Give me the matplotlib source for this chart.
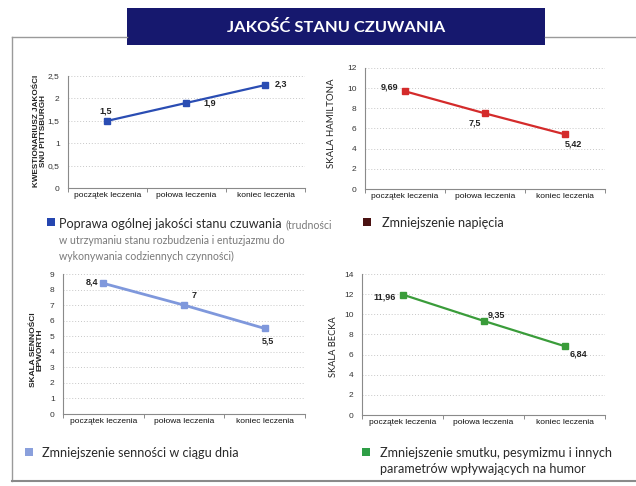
import matplotlib
matplotlib.use("Agg")
import matplotlib.pyplot as plt
from matplotlib.patches import Rectangle
from matplotlib.lines import Line2D

W, H = 636, 486
categories = ["początek leczenia", "połowa leczenia", "koniec leczenia"]

pittsburgh = [1.5, 1.9, 2.3]
hamilton = [9.69, 7.5, 5.42]
epworth = [8.4, 7.0, 5.5]
beck = [11.96, 9.35, 6.84]

pittsburgh_labels = ["1,5", "1,9", "2,3"]
hamilton_labels = ["9,69", "7,5", "5,42"]
epworth_labels = ["8,4", "7", "5,5"]
beck_labels = ["11,96", "9,35", "6,84"]

title = "JAKOŚĆ STANU CZUWANIA"

fig = plt.figure(figsize=(W / 100, H / 100), dpi=100)
fig.patch.set_facecolor("white")
renderer = fig.canvas.get_renderer()

def px_axes(x0, x1, ytop, ybot):
    return fig.add_axes([x0 / W, 1 - ybot / H, (x1 - x0) / W, (ybot - ytop) / H])

def fx(x):
    return x / W

def fy(y):
    return 1 - y / H

def fit(t, target, vertical=False):
    bb = t.get_window_extent(renderer=renderer)
    cur = bb.height if vertical else bb.width
    t.set_fontsize(t.get_fontsize() * target / cur)
    return t

# frame lines
fig.add_artist(Line2D([fx(12), fx(127)], [fy(37), fy(37)], color="#9a9a9a", lw=1))
fig.add_artist(Line2D([fx(545), fx(636)], [fy(37), fy(37)], color="#9a9a9a", lw=1))
fig.add_artist(Line2D([fx(12), fx(12)], [fy(37), fy(481)], color="#9a9a9a", lw=1))
fig.add_artist(Line2D([fx(12), fx(636)], [fy(481), fy(481)], color="#8a8a8a", lw=1.5))

# title banner
fig.add_artist(Rectangle((fx(127), fy(45)), (545 - 127) / W, 37 / H,
                         facecolor="#16186e", edgecolor="none", transform=fig.transFigure))
tt = fig.text(fx(336), fy(27), title, color="white", fontsize=12, fontweight="bold",
              family="Lato", ha="center", va="center")
fit(tt, 217)

tick_font = dict(family="Liberation Sans", fontsize=6)
val_font = dict(family="Liberation Sans", fontsize=6.5, fontweight="bold", color="#222222")
narrow = ["Liberation Sans Narrow", "Liberation Sans"]

def setup(ax, ymax, step, yfmt):
    ax.set_xlim(-0.5, 2.5)
    ax.set_ylim(0, ymax)
    yt = [i * step for i in range(int(round(ymax / step)) + 1)]
    ax.set_yticks(yt)
    ax.set_yticklabels([yfmt(v) for v in yt], **tick_font, color="#333333")
    ax.set_xticks([0, 1, 2])
    ax.set_xticklabels(categories, **tick_font, color="#111111")
    ax.tick_params(axis="x", length=0, pad=3)
    ax.tick_params(axis="y", length=0, pad=6)
    ax.set_xticks([-0.5, 0.5, 1.5, 2.5], minor=True)
    ax.tick_params(axis="x", which="minor", length=3, color="#777777", direction="out")
    for s in ["top", "right"]:
        ax.spines[s].set_visible(False)
    for s in ["left", "bottom"]:
        ax.spines[s].set_color("#8a8a8a")
        ax.spines[s].set_linewidth(0.8)
    ax.grid(axis="y", linestyle=(0, (1, 2)), color="#c8c8c8", lw=0.7)
    ax.set_axisbelow(True)
    ax.set_facecolor("none")

def ylab(text, x, y, height, weight="normal", family=narrow):
    t = fig.text(fx(x), fy(y), text, rotation=90, ha="center", va="center",
                 family=family, fontsize=7, color="#222222", linespacing=0.85,
                 fontweight=weight, multialignment="center")
    fit(t, height, vertical=True)

def comma(v):
    return ("%g" % v).replace(".", ",")

def labels(ax, vals, texts, dxs, dys, has):
    for i, (v, t, dx, dy, ha) in enumerate(zip(vals, texts, dxs, dys, has)):
        ax.annotate(t, (i, v), xytext=(dx, dy), textcoords="offset points",
                    ha=ha, va="center", **val_font)

# top-left
ax1 = px_axes(68, 305, 76, 188)
setup(ax1, 2.5, 0.5, comma)
ax1.plot([0, 1, 2], pittsburgh, color="#2a4db3", lw=1.6, marker="s", ms=4)
labels(ax1, pittsburgh, pittsburgh_labels, [-1, 12, 7], [7, 0, 1], ["center", "left", "left"])
ylab("KWESTIONARIUSZ JAKOŚCI\nSNU PITTSBURGH", 40, 131, 112, weight="bold")

# top-right
ax2 = px_axes(365, 605, 68, 189)
setup(ax2, 12, 2, comma)
ax2.plot([0, 1, 2], hamilton, color="#d42b2b", lw=1.6, marker="s", ms=4)
labels(ax2, hamilton, hamilton_labels, [-5, -7, 0], [3, -7, -7], ["right", "center", "left"])
ylab("SKALA HAMILTONA", 332, 123, 90, family="Lato")

# bottom-left
ax3 = px_axes(63, 305, 274, 414)
setup(ax3, 9, 1, comma)
ax3.plot([0, 1, 2], epworth, color="#7f98dc", lw=2, marker="s", ms=4)
labels(ax3, epworth, epworth_labels, [-4, 7, 2], [1, 7, -9], ["right", "center", "center"])
ylab("SKALA SENNOŚCI\nEPWORTH", 37, 350, 74, weight="bold")

# bottom-right
ax4 = px_axes(362, 605, 274, 415)
setup(ax4, 14, 2, comma)
ax4.plot([0, 1, 2], beck, color="#3a9c3a", lw=1.6, marker="s", ms=4)
labels(ax4, beck, beck_labels, [-5, 3, 4], [-2, 4, -6], ["right", "left", "left"])
ylab("SKALA BECKA", 333, 347, 61, family="Lato")

# legends
leg_font = dict(family="Lato", fontsize=10, color="#2a2a2a")
small_font = dict(family="Lato", fontsize=8, color="#7a7a7a")

probe = fig.text(0, 0, "Zmniejszenie smutku, pesymizmu i innych", **leg_font)
fit(probe, 230)
MAIN = probe.get_fontsize()
probe.remove()
probe = fig.text(0, 0, "w utrzymaniu stanu rozbudzenia i entuzjazmu do", **small_font)
fit(probe, 226)
SMALL = probe.get_fontsize()
probe.remove()
leg_font["fontsize"] = MAIN
small_font["fontsize"] = SMALL

def square(x, y, color):
    fig.add_artist(Rectangle((fx(x), fy(y + 8)), 8 / W, 8 / H, facecolor=color,
                             edgecolor="none", transform=fig.transFigure))

def ltext(x, y, s, font):
    return fig.text(fx(x), fy(y), s, va="baseline", **font)

square(47, 218, "#2546b0")
first = ltext(59, 228, "Poprawa ogólnej jakości stanu czuwania", leg_font)
end_px = first.get_window_extent(renderer=renderer).x1
ltext(end_px + 4, 228, "(trudności", small_font)
ltext(59, 244, "w utrzymaniu stanu rozbudzenia i entuzjazmu do", small_font)
ltext(59, 260, "wykonywania codziennych czynności)", small_font)

square(363, 218, "#4a1212")
ltext(382, 227, "Zmniejszenie napięcia", leg_font)

square(25, 448, "#8aa0dc")
ltext(42, 457, "Zmniejszenie senności w ciągu dnia", leg_font)

square(362, 448, "#2e9e46")
ltext(380, 457, "Zmniejszenie smutku, pesymizmu i innych", leg_font)
ltext(380, 473, "parametrów wpływających na humor", leg_font)

fig.savefig("out.png", dpi=100, facecolor="white")
